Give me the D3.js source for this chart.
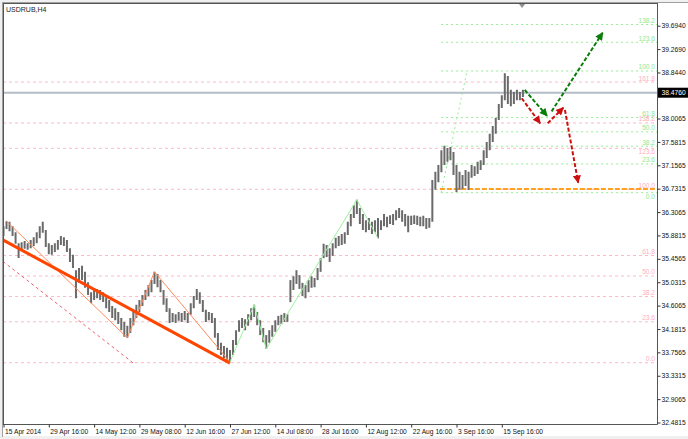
<!DOCTYPE html>
<html><head><meta charset="utf-8">
<script src="https://cdn.jsdelivr.net/npm/d3@7"></script>
<style>body{margin:0;background:#f0f0f0}svg{display:block}text{font-family:"Liberation Sans",Arial,sans-serif}</style>
</head><body><svg id="c" width="688" height="439"></svg>
<script>
const symbol = "USDRUB,H4";
const hi = [36.05,36.14,36.13,36.05,35.94,35.74,35.76,35.78,35.74,35.80,
35.85,35.94,36.05,36.13,35.98,35.74,35.71,35.74,35.80,35.87,
35.85,35.80,35.65,35.53,35.25,35.29,35.33,35.22,35.03,34.85,
34.89,34.91,34.89,34.85,34.76,34.71,34.60,34.56,34.49,34.38,
34.31,34.24,34.38,34.53,34.62,34.71,34.80,34.89,34.98,35.07,
35.22,35.18,35.07,34.89,34.74,34.56,34.47,34.45,34.49,34.47,
34.51,34.47,34.65,34.78,34.91,34.85,34.71,34.53,34.49,34.47,
34.38,34.11,33.93,33.87,33.84,33.80,33.98,34.16,34.34,34.38,
34.36,34.45,34.56,34.62,34.49,34.34,34.20,34.07,34.16,34.25,
34.34,34.42,34.44,34.47,34.45,35.07,35.14,35.25,35.16,35.02,
34.98,35.07,35.14,35.11,35.29,35.47,35.73,35.71,35.65,35.74,
35.84,35.87,35.91,35.94,36.13,36.27,36.43,36.53,36.38,36.27,
36.16,36.20,36.13,36.16,36.20,36.16,36.27,36.22,36.25,36.27,
36.34,36.38,36.34,36.27,36.24,36.24,36.25,36.24,36.22,36.24,
36.20,36.20,36.89,37.04,37.16,37.43,37.51,37.47,37.49,37.40,
37.16,37.04,36.98,37.07,37.04,37.16,37.14,37.22,37.25,37.43,
37.58,37.73,37.87,38.02,38.27,38.43,38.83,38.78,38.53,38.49,
38.53,38.49,38.53];
const lo = [35.87,36.00,35.96,35.87,35.73,35.47,35.60,35.64,35.62,35.65,
35.69,35.74,35.83,35.93,35.67,35.54,35.53,35.58,35.62,35.71,
35.69,35.58,35.40,35.29,34.74,35.02,35.07,34.93,34.80,34.65,
34.71,34.74,34.71,34.67,34.56,34.49,34.38,34.34,34.27,34.16,
34.04,34.02,34.11,34.25,34.38,34.49,34.60,34.71,34.78,34.85,
35.00,34.94,34.85,34.62,34.49,34.29,34.31,34.29,34.33,34.31,
34.34,34.29,34.44,34.56,34.71,34.64,34.49,34.31,34.34,34.29,
34.02,33.80,33.71,33.65,33.62,33.58,33.71,33.89,34.13,34.20,
34.16,34.24,34.34,34.40,34.25,34.07,33.94,33.82,33.93,34.04,
34.13,34.25,34.27,34.31,34.31,34.67,34.89,35.00,34.91,34.78,
34.74,34.85,34.93,34.94,35.07,35.22,35.47,35.49,35.40,35.51,
35.65,35.69,35.71,35.73,35.89,36.05,36.20,36.27,36.09,35.98,
35.94,35.98,35.91,35.94,35.83,35.98,36.05,36.03,36.09,36.07,
36.16,36.20,36.13,36.05,35.94,36.07,36.09,36.07,36.05,36.05,
36.00,36.02,36.13,36.71,36.85,37.03,37.16,37.22,37.25,36.98,
36.67,36.71,36.73,36.78,36.71,36.93,36.96,37.00,37.07,37.16,
37.29,37.43,37.58,37.73,37.98,38.20,38.34,38.27,38.23,38.27,
38.34,38.34,38.40];
const timeLabels = ["15 Apr 2014","29 Apr 16:00","14 May 12:00","29 May 08:00","12 Jun 16:00","27 Jun 12:00","14 Jul 08:00","28 Jul 16:00","12 Aug 12:00","22 Aug 16:00","3 Sep 16:00","15 Sep 16:00"];
const timeTickIdx = [0,15,30,45,60,75,90,105,120,135,150,165];
const priceTicks = [39.6940,39.2690,38.8440,38.0065,37.5815,37.1565,36.7315,36.3065,35.8815,35.4565,35.0315,34.6065,34.1815,33.7565,33.3315,32.9065,32.4815];
const lastPrice = 38.4760;
const greenFibLevels = [0,23.6,38.2,50,61.8,100,123.6,138.2];
const greenFibBase = [36.659, 38.871];
const greenFibIdx = [144.9, 153.5];
const pinkFibLevels = [0,23.6,38.2,50,61.8,100,123.6,138.2,161.8];
const pinkFibBase = [33.568, 36.721];
const orangeLevel = 36.726;
const orangeStartIdx = 144.5;
const trendThick = [[-0.2,35.80],[75,33.56]];
const trendDash = [[-0.2,35.41],[43,33.56]];
const zigOrange = [[1,36.14],[41,34.02],[50,35.22],[75,33.58]];
const zigGreen = [[75,33.58],[83,34.62],[87,33.82],[117,36.53],[124,35.83]];
const greenArrows = [[[172.6,38.526],[180.0,38.053]],[[181.5,38.137],[198.4,39.567]]];
const redArrows = [[[171.6,38.375],[177.7,37.92]],[[180.2,37.92],[185.4,38.204]],[[185.9,38.162],[190.3,36.84]]];
const shiftIdx = 171.7;

const svg = d3.select("#c");
const L = 3, R = 657.5, T = 3, B = 424.5;
const x = d3.scaleLinear().domain([0,165]).range([3.5,501.8]);
const y = d3.scaleLinear().domain([32.4815,39.694]).range([422.5,25.7]);

svg.append("rect").attr("width",688).attr("height",439).attr("fill","#f0f0f0");
svg.append("rect").attr("x",3).attr("y",3).attr("width",685).attr("height",433).attr("fill","#fff");
svg.append("line").attr("x1",2.5).attr("x2",2.5).attr("y1",2).attr("y2",437).attr("stroke","#a0a0a0");
svg.append("line").attr("x1",2).attr("x2",688).attr("y1",2.5).attr("y2",2.5).attr("stroke","#a0a0a0");

const defs = svg.append("defs");
defs.append("clipPath").attr("id","pc").append("rect").attr("x",L+0.5).attr("y",T+0.5).attr("width",R-L-1).attr("height",B-T-1);
function marker(id,color){
  defs.append("marker").attr("id",id).attr("viewBox","0 0 10 10").attr("refX",9).attr("refY",5)
    .attr("markerWidth",9).attr("markerHeight",8).attr("markerUnits","userSpaceOnUse").attr("orient","auto")
    .append("path").attr("d","M0,0L10,5L0,10Z").attr("fill",color);
}
marker("ag","#0a7d0a"); marker("ar","#cc1010");

const g = svg.append("g").attr("clip-path","url(#pc)");

// pink fib levels (full width); labels that would collide with a green label sit just below their line
const pinkBelow = [123.6];
pinkFibLevels.forEach(r=>{
  const p = pinkFibBase[0] + r/100*(pinkFibBase[1]-pinkFibBase[0]);
  g.append("line").attr("x1",L).attr("x2",R).attr("y1",y(p)).attr("y2",y(p))
    .attr("stroke","#ffb8c4").attr("stroke-dasharray","3,3");
  svg.append("text").attr("x",655).attr("y",pinkBelow.includes(r)?y(p)+6:y(p)-1.5).attr("text-anchor","end")
    .attr("font-size","6.6px").attr("fill","#ffb0bc").text(r.toFixed(1));
});
// green fib levels
const greenBelow = [0];
greenFibLevels.forEach(r=>{
  const p = greenFibBase[0] + r/100*(greenFibBase[1]-greenFibBase[0]);
  g.append("line").attr("x1",x(greenFibIdx[0])).attr("x2",R).attr("y1",y(p)).attr("y2",y(p))
    .attr("stroke","#96ec96").attr("stroke-dasharray","2,3");
  svg.append("text").attr("x",655).attr("y",greenBelow.includes(r)?y(p)+6:y(p)-1.5).attr("text-anchor","end")
    .attr("font-size","6.6px").attr("fill","#90e890").text(r.toFixed(1));
});
g.append("line").attr("x1",x(greenFibIdx[0])).attr("y1",y(greenFibBase[0]))
  .attr("x2",x(greenFibIdx[1])).attr("y2",y(greenFibBase[1]))
  .attr("stroke","#96ec96").attr("stroke-dasharray","2,3");

// orange level
g.append("line").attr("x1",x(orangeStartIdx)).attr("x2",R).attr("y1",y(orangeLevel)).attr("y2",y(orangeLevel))
  .attr("stroke","#ffa020").attr("stroke-width",2).attr("stroke-dasharray","5,2");
// last price line
g.append("line").attr("x1",L).attr("x2",R).attr("y1",y(lastPrice)).attr("y2",y(lastPrice))
  .attr("stroke","#b4bcc6").attr("stroke-width",2);

// bars
g.selectAll(".bar").data(hi).join("line").attr("class","bar")
  .attr("x1",(d,i)=>x(i)).attr("x2",(d,i)=>x(i))
  .attr("y1",d=>y(d)).attr("y2",(d,i)=>y(lo[i]))
  .attr("stroke","#6a6a6a").attr("stroke-width",2);

const line = d3.line().x(d=>x(d[0])).y(d=>y(d[1]));
g.append("path").attr("d",line(trendDash)).attr("fill","none").attr("stroke","#f06070").attr("stroke-dasharray","3,3");
g.append("path").attr("d",line(zigOrange)).attr("fill","none").attr("stroke","#ff8a5a").attr("stroke-width",1);
g.append("path").attr("d",line(trendThick)).attr("fill","none").attr("stroke","#ff4500").attr("stroke-width",3);
g.append("path").attr("d",line(zigGreen)).attr("fill","none").attr("stroke","#9cf09c").attr("stroke-width",1);

greenArrows.forEach(a=>g.append("path").attr("d",line(a)).attr("fill","none").attr("stroke","#0a7d0a")
  .attr("stroke-width",2).attr("stroke-dasharray","4,2").attr("marker-end","url(#ag)"));
redArrows.forEach(a=>g.append("path").attr("d",line(a)).attr("fill","none").attr("stroke","#cc1010")
  .attr("stroke-width",2).attr("stroke-dasharray","4,2").attr("marker-end","url(#ar)"));

// frame
svg.append("line").attr("x1",R).attr("x2",R).attr("y1",T).attr("y2",B).attr("stroke","#555");
svg.append("line").attr("x1",L).attr("x2",R).attr("y1",B).attr("y2",B).attr("stroke","#555");
svg.append("line").attr("x1",L+0.5).attr("x2",L+0.5).attr("y1",T).attr("y2",B).attr("stroke","#555");
svg.append("line").attr("x1",L).attr("x2",R).attr("y1",T+0.5).attr("y2",T+0.5).attr("stroke","#555");

// shift marker
const sx = x(shiftIdx);
svg.append("path").attr("d",`M${sx-3},${T+1}L${sx+3},${T+1}L${sx},${T+5}Z`).attr("fill","#909090");

// y axis
const ya = svg.append("g").attr("transform",`translate(${R},0)`)
  .call(d3.axisRight(y).tickValues(priceTicks).tickSize(3).tickFormat(d3.format(".4f")));
ya.select(".domain").remove();
ya.selectAll("line").attr("stroke","#333");
ya.selectAll("text").attr("font-size","6.7px").attr("fill","#111").attr("x",4).attr("font-family","Liberation Sans, Arial, sans-serif");

// x axis
const xa = svg.append("g").attr("transform",`translate(0,${B})`)
  .call(d3.axisBottom(x).tickValues(timeTickIdx).tickSize(3).tickFormat((d,i)=>timeLabels[i]));
xa.select(".domain").remove();
xa.selectAll("line").attr("stroke","#333");
xa.selectAll("text").attr("font-size","6.7px").attr("fill","#111").attr("text-anchor","start")
  .attr("x",1).attr("y",5).attr("font-family","Liberation Sans, Arial, sans-serif");

// last price label
const ly = y(lastPrice);
svg.append("rect").attr("x",R+0.5).attr("y",ly-5).attr("width",688-R).attr("height",10).attr("fill","#000");
svg.append("text").attr("x",R+4).attr("y",ly+2.4).attr("font-size","6.7px").attr("fill","#fff").text(lastPrice.toFixed(4));

// title
svg.append("text").attr("x",6).attr("y",12).attr("font-size","7px").attr("fill","#222").text(symbol);
</script></body></html>
